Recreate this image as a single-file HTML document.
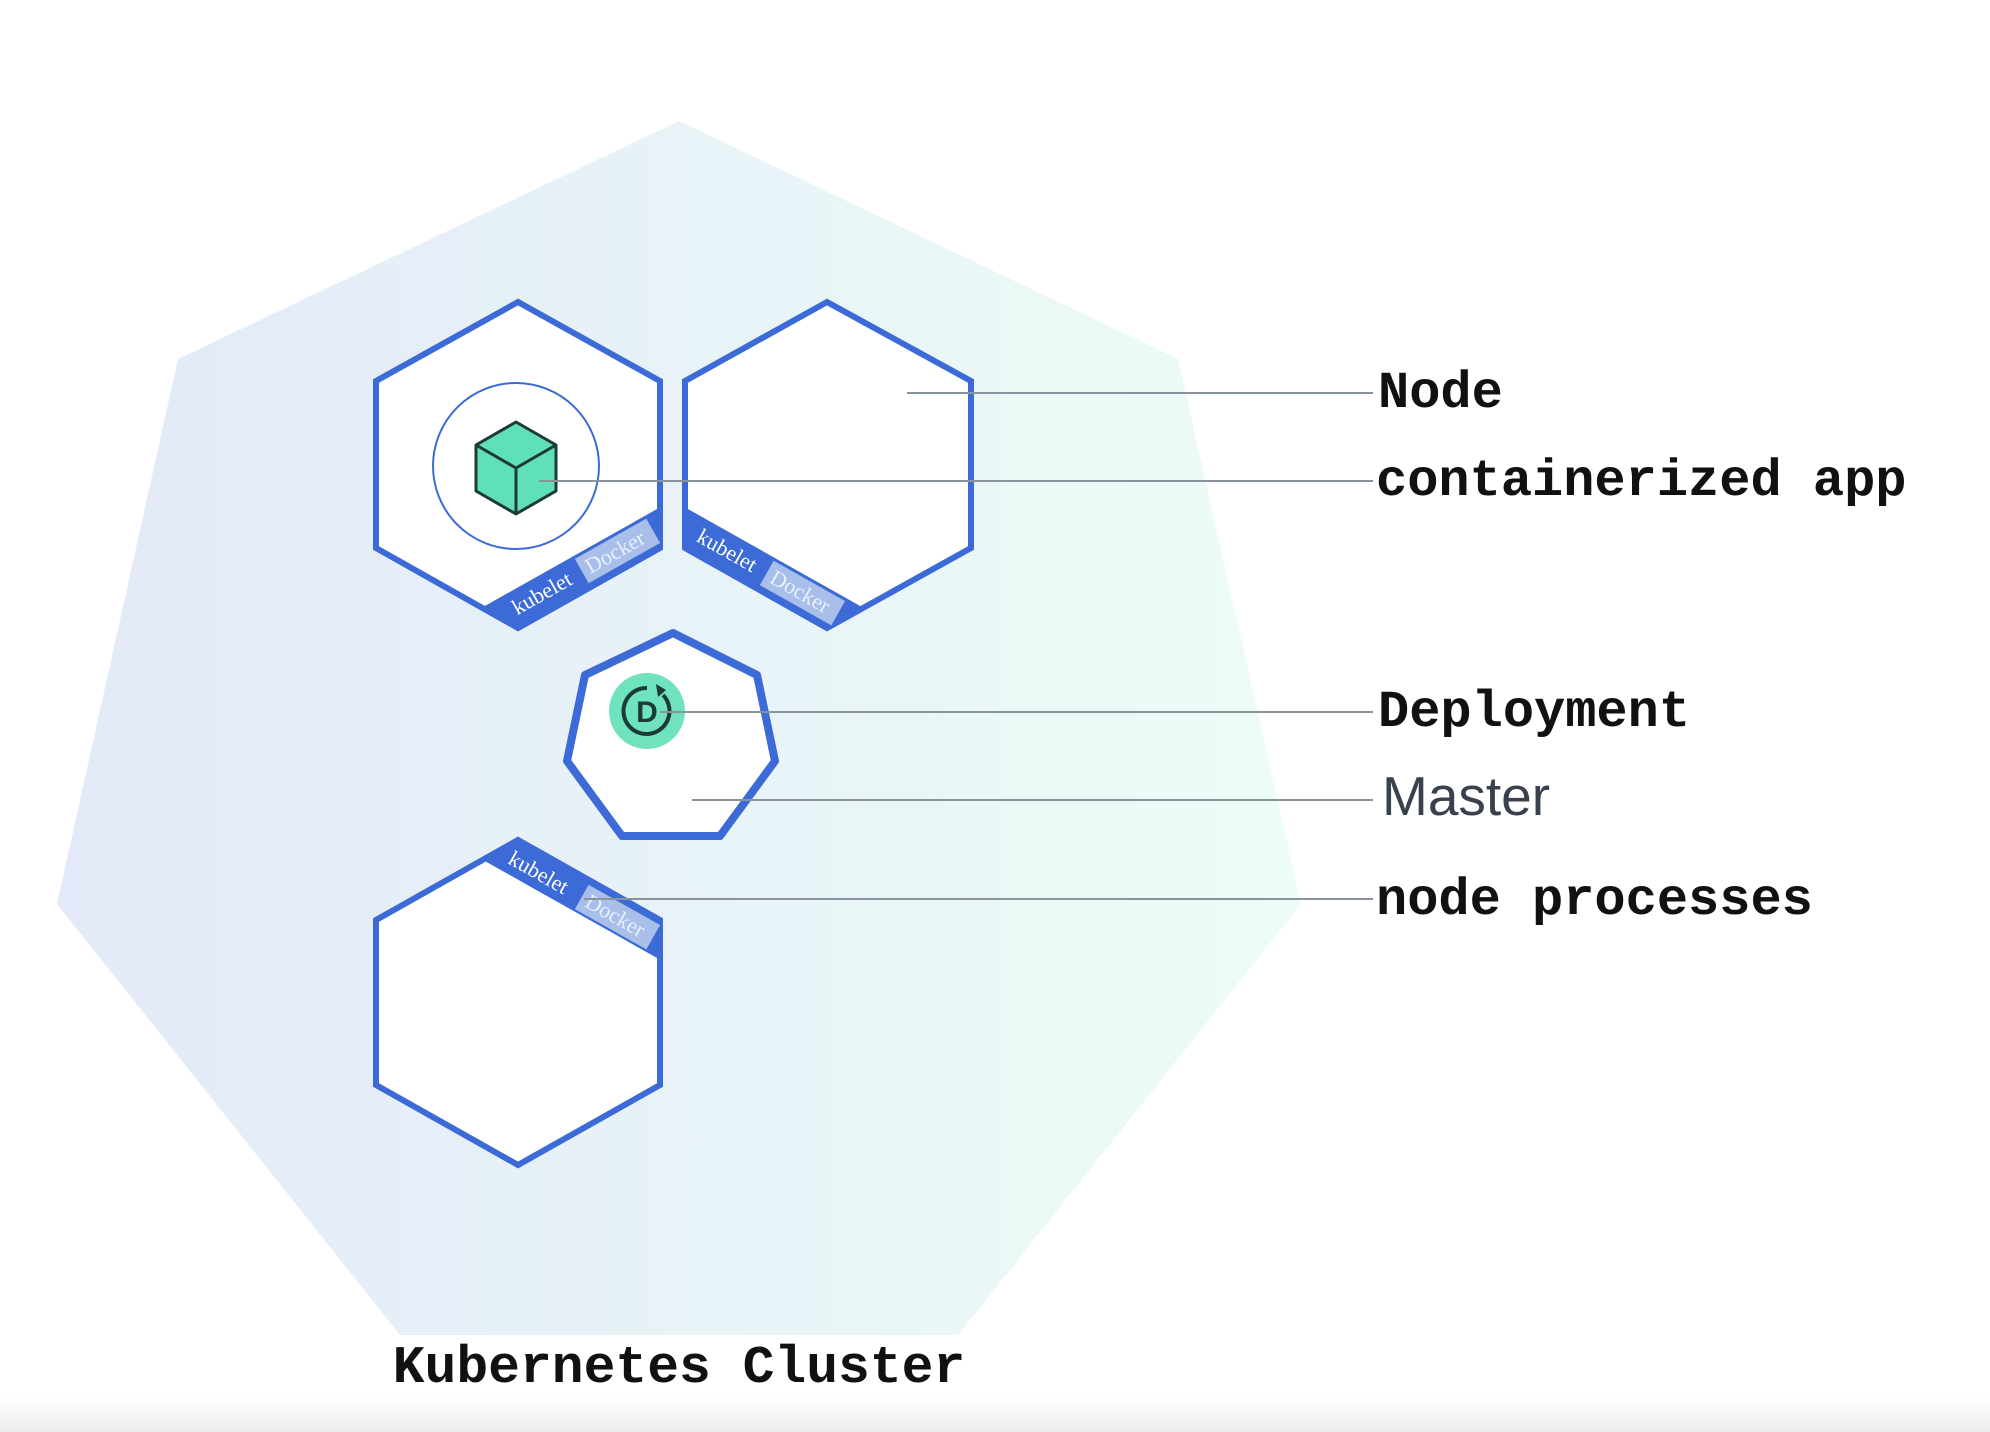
<!DOCTYPE html>
<html><head><meta charset="utf-8"><style>
html,body{margin:0;padding:0;background:#fff}
svg{display:block}
</style></head><body>
<svg width="1990" height="1432" viewBox="0 0 1990 1432" xmlns="http://www.w3.org/2000/svg">
<defs>
<linearGradient id="bg" x1="0" x2="1" y1="0" y2="0">
<stop offset="0" stop-color="#e3e9f8"/><stop offset="1" stop-color="#ecfcf6"/>
</linearGradient>
<linearGradient id="btm" x1="0" x2="0" y1="0" y2="1">
<stop offset="0" stop-color="#ffffff"/><stop offset="1" stop-color="#ececec"/>
</linearGradient>
<clipPath id="h1"><polygon points="518,302 660,381 660,548 518,628 376,548 376,381"/></clipPath>
<clipPath id="h2"><polygon points="827,302 971,381 971,548 827,628 685,548 685,381"/></clipPath>
<clipPath id="h3"><polygon points="518,840 660,920 660,1085 518,1165 376,1085 376,920"/></clipPath>
</defs>
<rect x="0" y="1396" width="1990" height="36" fill="url(#btm)"/>
<polygon points="679,121 1178,359 1301,904 958,1335 400,1335 57,904 178,359" fill="url(#bg)"/>

<!-- hex 1 -->
<polygon points="518,302 660,381 660,548 518,628 376,548 376,381" fill="#fff"/>
<g clip-path="url(#h1)"><line x1="700" y1="525" x2="478" y2="650" stroke="#3c6ad6" stroke-width="70"/></g>
<polygon points="518,302 660,381 660,548 518,628 376,548 376,381" fill="none" stroke="#3c6ad6" stroke-width="6" stroke-linejoin="miter"/>
<g transform="translate(580,572) rotate(-29.4)">
<text x="-76" y="7" font-family="Liberation Serif,serif" font-size="22" fill="#fff">kubelet</text>
<rect x="2" y="-14" width="82" height="28" fill="#a8bfe9"/>
<text x="8" y="7" font-family="Liberation Serif,serif" font-size="22" fill="#e8efff">Docker</text>
</g>
<circle cx="516" cy="466" r="83" fill="none" stroke="#3c6ad6" stroke-width="2"/>
<polygon points="516,422 556,445 556,491 516,514 476,491 476,445" fill="#5fe0b8" stroke="#1b3a38" stroke-width="3" stroke-linejoin="round"/>
<polyline points="476,445 516,468 556,445" fill="none" stroke="#1b3a38" stroke-width="3"/>
<line x1="516" y1="468" x2="516" y2="514" stroke="#1b3a38" stroke-width="3"/>

<!-- hex 2 -->
<polygon points="827,302 971,381 971,548 827,628 685,548 685,381" fill="#fff"/>
<g clip-path="url(#h2)"><line x1="645" y1="525" x2="867" y2="650" stroke="#3c6ad6" stroke-width="70"/></g>
<polygon points="827,302 971,381 971,548 827,628 685,548 685,381" fill="none" stroke="#3c6ad6" stroke-width="6"/>
<g transform="translate(765,572) rotate(29.4)">
<text x="-76" y="7" font-family="Liberation Serif,serif" font-size="22" fill="#fff">kubelet</text>
<rect x="2" y="-14" width="82" height="28" fill="#a8bfe9"/>
<text x="8" y="7" font-family="Liberation Serif,serif" font-size="22" fill="#e8efff">Docker</text>
</g>

<!-- hex 3 -->
<polygon points="518,840 660,920 660,1085 518,1165 376,1085 376,920" fill="#fff"/>
<g clip-path="url(#h3)"><line x1="478" y1="817" x2="700" y2="942" stroke="#3c6ad6" stroke-width="70"/></g>
<polygon points="518,840 660,920 660,1085 518,1165 376,1085 376,920" fill="none" stroke="#3c6ad6" stroke-width="6"/>
<g transform="translate(580,896) rotate(29.4)">
<text x="-80" y="7" font-family="Liberation Serif,serif" font-size="22" fill="#fff">kubelet</text>
<rect x="2" y="-14" width="82" height="28" fill="#a8bfe9"/>
<text x="8" y="7" font-family="Liberation Serif,serif" font-size="22" fill="#e8efff">Docker</text>
</g>

<!-- master -->
<polygon points="673,633 757,675 775,761 720,836 622,836 567,761 585,675" fill="#fff" stroke="#3c6ad6" stroke-width="8" stroke-linejoin="round"/>
<circle cx="647" cy="711" r="38" fill="#6ee3bd"/>
<path d="M663,695 A23,23 0 1 1 647,688" fill="none" stroke="#1b3a38" stroke-width="4"/>
<polygon points="656,684 666,690 658,697" fill="#1b3a38"/>
<text x="647" y="722" text-anchor="middle" font-family="Liberation Sans,sans-serif" font-weight="bold" font-size="30" fill="#1b3a38">D</text>

<!-- connectors -->
<g stroke="#8a929c" stroke-width="2">
<line x1="907" y1="393" x2="1373" y2="393"/>
<line x1="539" y1="481" x2="1373" y2="481"/>
<line x1="660" y1="712" x2="1373" y2="712"/>
<line x1="692" y1="800" x2="1373" y2="800"/>
<line x1="584" y1="899" x2="1373" y2="899"/>
</g>
<g font-family="Liberation Mono,monospace" font-size="52" fill="#111" font-weight="bold">
<text x="1378" y="407">Node</text>
<text x="1376" y="495">containerized app</text>
<text x="1378" y="726">Deployment</text>
<text x="1376" y="914">node processes</text>
</g>
<text x="1382" y="815" font-family="Liberation Sans,sans-serif" font-size="55" fill="#39414f">Master</text>
<text x="679" y="1382" text-anchor="middle" font-family="Liberation Mono,monospace" font-weight="bold" font-size="53" fill="#111">Kubernetes Cluster</text>
</svg>
</body></html>
